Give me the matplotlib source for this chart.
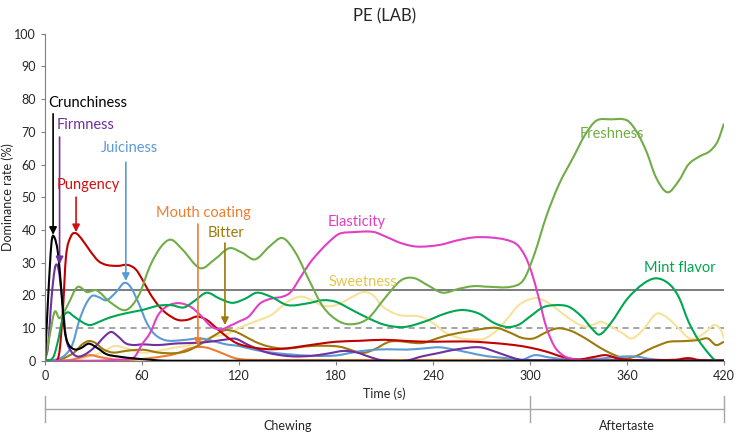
import matplotlib
matplotlib.use("Agg")
import matplotlib.pyplot as plt
from matplotlib.path import Path
from matplotlib.patches import PathPatch
import numpy as np

plt.rcParams['font.family'] = ['Lato', 'DejaVu Sans']

# -----------------------------
# Dados (tempo em s, taxa de dominância em %)
# -----------------------------
crunch_t = [0, 2, 4, 5.5, 8, 10, 12, 14, 18, 22, 27, 32, 38, 45, 55, 65, 75, 420]
crunch_v = [0, 20, 36, 38, 33, 22, 10, 5.5, 3.5, 3.8, 5.2, 4, 2, 1.3, 0.7, 0.3, 0, 0]

firm_t = [0, 2, 4, 6, 7.5, 9, 11, 13, 16, 20, 25, 31, 37, 41, 45, 50, 55, 60, 70, 82, 95,
          105, 112, 118, 125, 132, 138, 147, 155, 165, 175, 185, 193, 200, 208, 223, 233,
          243, 255, 269, 280, 290, 296, 420]
firm_v = [0, 5, 19, 28, 29.3, 26, 17, 7, 3, 1.3, 2, 4.3, 7.5, 8.8, 7.5, 5.3, 4.8, 5, 4.8,
          5.3, 5.5, 6, 6.5, 6.7, 5, 3.5, 2.4, 1.6, 1.3, 1.5, 2.2, 3, 2.5, 1.3, 0.2, 0, 1.3,
          2.3, 3.5, 4.1, 2.5, 0.8, 0.2, 0]

juicy_t = [0, 8, 13, 17, 21, 25, 29, 33, 38, 44, 49, 53, 58, 63, 68, 75, 85, 96, 104, 112,
           120, 130, 140, 150, 165, 180, 190, 200, 212, 224, 235, 244, 252, 262, 273, 285,
           295, 303, 312, 325, 340, 355, 365, 375, 385, 420]
juicy_v = [0, 0.5, 2, 5, 12, 17, 19.8, 19.5, 18.5, 21, 23.8, 22.5, 17.5, 11.5, 8, 6.2, 6.3,
           6.8, 6, 5, 4.5, 3.3, 2.5, 2, 1.5, 1.6, 2.5, 3.2, 3.5, 3.4, 3.8, 4.1, 3.5, 2.5, 1.4,
           0.8, 0.3, 1.7, 1, 0.3, 0.5, 1.2, 1.3, 0.5, 0.2, 0]

pung_t = [0, 7, 9, 11, 13, 16, 19, 23, 28, 33, 38, 45, 51, 56, 60, 65, 70, 75, 82, 88, 94,
          100, 106, 112, 118, 124, 132, 140, 150, 160, 170, 180, 195, 210, 225, 240, 260,
          275, 290, 300, 310, 320, 330, 340, 347, 355, 365, 390, 398, 405, 420]
pung_v = [0, 0, 3, 15, 32, 38, 39, 37, 33.5, 30.5, 29.3, 29, 29.3, 28, 25, 20.5, 17, 14.5,
          12.5, 12.5, 13.5, 12.5, 10, 7.5, 5.5, 4.5, 3.8, 3.5, 3.8, 4.5, 5.2, 5.8, 6.1, 6.4,
          6, 5.8, 5.9, 5.5, 4.8, 4, 2.8, 1.2, 0.4, 1.2, 1.7, 0.6, 0.2, 0.3, 0.8, 0.2, 0]

coat_t = [0, 15, 22, 28, 35, 45, 55, 65, 75, 82, 88, 94, 100, 106, 112, 118, 125, 140, 420]
coat_v = [0, 0.2, 1, 1.7, 1, 0.3, 0.3, 0.8, 1.5, 2.3, 3.5, 4.2, 4, 3, 1.8, 0.7, 0.3, 0.2, 0.2]

bitter_t = [0, 10, 18, 23, 27, 31, 36, 42, 50, 56, 62, 70, 80, 88, 97, 104, 111, 117, 122,
            130, 138, 148, 165, 182, 196, 203, 214, 233, 243, 250, 262, 273, 280, 288, 295,
            302, 310, 317, 325, 333, 344, 352, 359, 366, 373, 380, 386, 395, 404, 410, 415,
            420]
bitter_v = [0, 0.5, 2.5, 5, 6, 5.5, 3.5, 2.5, 3, 3.3, 3.3, 2.5, 2.3, 3, 5.3, 7.5, 9.3, 9,
            7.9, 5.8, 4.4, 3.7, 4.5, 4.3, 2.4, 3.3, 5.9, 5.4, 6.9, 7.9, 9, 9.9, 10, 8.5, 7,
            6.8, 8.7, 9.9, 9.2, 7.2, 3.8, 1.8, 0.7, 1.5, 3.3, 4.8, 5.8, 6, 6.3, 6.8, 4.8, 5.8]

elast_t = [0, 30, 45, 55, 60, 65, 70, 76, 83, 90, 96, 103, 109, 115, 120, 126, 133, 140,
           147, 152, 158, 164, 170, 176, 182, 190, 203, 211, 220, 230, 244, 255, 265, 275,
           285, 292, 297, 301, 305, 310, 315, 320, 326, 340, 420]
elast_v = [0, 0, 0.3, 1, 5, 8.5, 14, 16.8, 17.6, 16.5, 14, 10.4, 9.6, 10.8, 12, 13.5,
           17.5, 19, 19.6, 21, 25.5, 30, 33.5, 36.5, 38.8, 39.3, 39.4, 37.9, 36, 34.9, 35.4,
           36.8, 37.7, 37.7, 37, 35.5, 32, 27, 20, 10.4, 4.5, 1.8, 0.5, 0, 0]

sweet_t = [0, 15, 25, 35, 43, 50, 60, 70, 80, 90, 98, 105, 112, 120, 130, 140, 150, 158,
           165, 172, 180, 190, 197, 203, 209, 219, 232, 240, 248, 256, 265, 272, 280, 287,
           293, 300, 305, 312, 320, 327, 334, 339, 344, 350, 357, 363, 370, 378, 384, 392,
           398, 402, 408, 414, 418, 420]
sweet_v = [0, 0, 1, 2.5, 4.5, 3.8, 2.5, 3, 4, 4.8, 6.5, 7.5, 8, 10, 12, 14, 18, 19.6,
           18.5, 16.8, 17, 19.5, 21, 20, 16.5, 14, 13.5, 11.5, 8.5, 7, 6.5, 6.8, 9.5, 13.5,
           17, 18.8, 19.1, 17.5, 14.5, 12, 10.4, 11, 11.9, 10.5, 8.5, 6.8, 9.5, 14.3, 13.5,
           9.9, 7, 6.8, 8.5, 10.9, 9.5, 6.8]

fresh_t = [0, 3, 6, 9, 14, 20, 26, 32, 40, 50, 58, 65, 72, 78, 85, 96, 105, 114, 122, 130,
           139, 147, 155, 163, 172, 182, 191, 200, 210, 220, 228, 237, 246, 256, 265, 275,
           288, 296, 303, 310, 318, 327, 334, 341, 350, 360, 366, 372, 378, 385, 392, 398,
           405, 411, 416, 420]
fresh_v = [0, 8, 15, 13, 17, 22.5, 21, 21.5, 18, 15.5, 20, 29, 35, 37, 34, 28.3, 31, 34.4,
           33, 31, 35, 37.5, 33, 25, 16.5, 12, 11.2, 13, 19, 24.5, 25.3, 23, 20.8, 22, 22.8,
           22.6, 22.6, 24.7, 33, 44, 54, 62.4, 69, 73.4, 73.8, 73.5, 70, 64, 56, 51.5, 55,
           60, 62.5, 64, 67, 72.5]

mint_t = [0, 5, 8, 11, 14, 18, 24, 28, 34, 40, 50, 60, 70, 78, 86, 93, 100, 108, 116, 124,
          131, 140, 150, 162, 172, 180, 190, 200, 210, 222, 235, 248, 258, 268, 278, 286,
          293, 300, 308, 316, 324, 332, 338, 343, 350, 360, 370, 378, 386, 392, 398, 404,
          410, 415, 420]
mint_v = [0, 1, 6, 13, 14.8, 13.5, 11.5, 10.9, 12, 13.2, 14.5, 15.5, 16.8, 17, 16.3, 18.5,
          20.8, 19, 17.7, 19, 20.8, 19.5, 17, 17.5, 18.5, 18, 15.5, 13, 11, 10.3, 12, 14.5,
          15.5, 14.5, 11.5, 10.3, 11, 13.5, 16.3, 17, 16.5, 13.5, 10, 8, 11.5, 18.8, 23.5,
          25.2, 23.5, 19.5, 12, 6.5, 2.5, 0, 0]

significance = 21.7
chance = 10

series = [
    ("Sweetness", sweet_t, sweet_v, '#F7E29B'),
    ("Mouth coating", coat_t, coat_v, '#ED7D31'),
    ("Bitter", bitter_t, bitter_v, '#9C7A0C'),
    ("Juiciness", juicy_t, juicy_v, '#5B9BD5'),
    ("Firmness", firm_t, firm_v, '#7030A0'),
    ("Pungency", pung_t, pung_v, '#C00000'),
    ("Elasticity", elast_t, elast_v, '#E23FC4'),
    ("Mint flavor", mint_t, mint_v, '#00A651'),
    ("Freshness", fresh_t, fresh_v, '#70AD47'),
    ("Crunchiness", crunch_t, crunch_v, '#000000'),
]


def smooth_path(t, v):
    # curva suavizada (tipo Excel) com segmentos Bezier cúbicos
    t = np.asarray(t, float)
    v = np.asarray(v, float)
    n = len(t)
    m = np.zeros(n)
    for i in range(n):
        a = max(i - 1, 0)
        b = min(i + 1, n - 1)
        m[i] = (v[b] - v[a]) / (t[b] - t[a])
    verts = [(t[0], v[0])]
    codes = [Path.MOVETO]
    for i in range(n - 1):
        h = t[i + 1] - t[i]
        verts += [(t[i] + h / 3, v[i] + m[i] * h / 3),
                  (t[i + 1] - h / 3, v[i + 1] - m[i + 1] * h / 3),
                  (t[i + 1], v[i + 1])]
        codes += [Path.CURVE4] * 3
    return Path(verts, codes)


fig = plt.figure(figsize=(7.38, 4.32), dpi=100)
ax = fig.add_axes([0.061, 0.165, 0.92, 0.757])

ax.axhline(chance, color='#8C8C8C', lw=1.1, ls=(0, (4, 3)), zorder=1)
ax.axhline(significance, color='#595959', lw=1.1, zorder=1)

for name, t, v, c in series:
    ax.add_patch(PathPatch(smooth_path(t, v), facecolor='none', edgecolor=c,
                           lw=1.5, zorder=2))

# -----------------------------
# Rótulos e setas
# -----------------------------
arrows = [
    ("Crunchiness", '#000000', (1.9, 78.8), 'left', (5, 75.5), (5, 38.5)),
    ("Firmness", '#7030A0', (7.4, 72.1), 'left', (9, 68.4), (9, 29.5)),
    ("Pungency", '#D01010', (7.4, 53.7), 'left', (19.2, 50), (19.2, 39.3)),
    ("Juiciness", '#5B9BD5', (52, 65), 'center', (50, 60.7), (50, 24.4)),
    ("Mouth coating", '#ED7D31', (97.7, 45.2), 'center', (94.6, 41.8), (94.6, 4.5)),
    ("Bitter", '#9C7A0C', (112, 39), 'center', (111.3, 36), (111.3, 10.9)),
]
for label, c, pos, ha, start, end in arrows:
    ax.text(pos[0], pos[1], label, color=c, fontsize=10.5, ha=ha, va='center')
    ax.annotate('', xy=end, xytext=start,
                arrowprops=dict(arrowstyle='-|>', color=c, lw=1.2, mutation_scale=11,
                                shrinkA=0, shrinkB=0))

ax.text(193, 42.4, "Elasticity", color='#E23FC4', fontsize=10.5, ha='center', va='center')
ax.text(196.7, 24, "Sweetness", color='#E3C64B', fontsize=10.5, ha='center', va='center')
ax.text(350.7, 69.3, "Freshness", color='#70AD47', fontsize=10.5, ha='center', va='center')
ax.text(392.7, 28.3, "Mint flavor", color='#00A651', fontsize=10.5, ha='center', va='center')

# -----------------------------
# Eixos
# -----------------------------
ax.set_xlim(0, 420)
ax.set_ylim(0, 100)
ax.set_xticks(np.arange(0, 421, 60))
ax.set_yticks(np.arange(0, 101, 10))
ax.tick_params(labelsize=9, colors='#7F7F7F', labelcolor='#262626', length=3)
for s in ['top', 'right']:
    ax.spines[s].set_visible(False)
for s in ['left', 'bottom']:
    ax.spines[s].set_color('#7F7F7F')
ax.set_xlabel("Time (s)", fontsize=9, color='#262626', labelpad=4)
ax.set_ylabel("Dominance rate (%)", fontsize=9, color='#262626')
ax.yaxis.set_label_coords(-0.045, 0.5)
ax.set_title("PE (LAB)", fontsize=12, color='#262626', pad=9)

# Fases: mastigação e residual
trans = ax.get_xaxis_transform()
bc = '#A6A6A6'
ax.plot([0, 420], [-0.148, -0.148], color=bc, lw=1, transform=trans, clip_on=False)
for xb in [0, 300, 420]:
    ax.plot([xb, xb], [-0.108, -0.187], color=bc, lw=1, transform=trans, clip_on=False)
ax.text(150, -0.2, "Chewing", fontsize=9, color='#262626', ha='center', va='center',
        transform=trans)
ax.text(360, -0.2, "Aftertaste", fontsize=9, color='#262626', ha='center', va='center',
        transform=trans)

fig.savefig("out.png", dpi=100)
